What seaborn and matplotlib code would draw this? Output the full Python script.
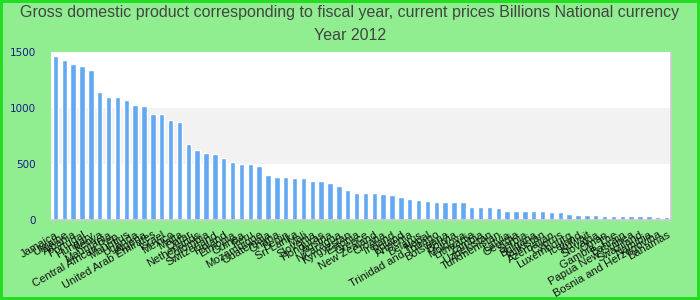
import matplotlib
matplotlib.use("Agg")
import matplotlib.pyplot as plt
import seaborn as sns
import pandas as pd

countries = [
    "Jamaica", "Ukraine", "Albania", "Portugal", "Hungary",
    "Kenya", "Mauritania", "Central African Rep.", "Mauritius", "Uganda",
    "Algeria", "United Arab Emirates", "Israel", "Mexico", "Malta",
    "Qatar", "Netherlands", "Colombia", "Switzerland", "Finland",
    "Ethiopia", "Guinea", "Peru", "Mozambique", "Guatemala",
    "Ghana", "Benin", "Sri Lanka", "Mali", "Slovenia",
    "Honduras", "Austria", "Nicaragua", "Kyrgyzstan", "Estonia",
    "Greece", "New Zealand", "Croatia", "Ireland", "Poland",
    "Armenia", "Belarus", "Nepal", "Trinidad and Tobago", "Botswana",
    "Bolivia", "Moldova", "Lithuania", "Zambia", "Uzbekistan",
    "Turkmenistan", "Latvia", "Georgia", "Serbia", "Bulgaria",
    "Tajikistan", "Azerbaijan", "Cyprus", "Luxembourg", "Iceland",
    "Kuwait", "Slovakia", "Oman", "Gambia, The", "Bahrain",
    "Papua New Guinea", "Swaziland", "Namibia", "Bosnia and Herzegovina", "Bahamas",
]

values = [
    1468, 1432, 1397, 1379, 1335,
    1140, 1095, 1095, 1068, 1024,
    1015, 944, 944, 890, 872,
    678, 624, 597, 589, 554,
    519, 501, 501, 483, 403,
    385, 385, 376, 376, 349,
    349, 332, 305, 269, 242,
    242, 242, 234, 225, 207,
    189, 180, 172, 163, 163,
    163, 163, 118, 118, 118,
    109, 83, 83, 83, 83,
    83, 74, 74, 56, 47,
    47, 47, 38, 38, 38,
    38, 38, 38, 29, 29,
]

title_lines = [
    "Gross domestic product corresponding to fiscal year, current prices Billions National currency",
    "Year 2012",
]
y_ticks = [0, 500, 1000, 1500]

df = pd.DataFrame({"country": countries, "value": values})

sns.set_theme(style="white")
plt.rcParams["font.family"] = ["Liberation Sans", "DejaVu Sans"]

fig = plt.figure(figsize=(7, 3), dpi=100)
fig.patch.set_facecolor("#90ee90")
fig.patch.set_edgecolor("#22dd22")
fig.patch.set_linewidth(3)

ax = fig.add_axes([51 / 700, 1 - 220 / 300, 620 / 700, 168 / 300])
ax.set_facecolor("white")
ax.axhspan(500, 1000, color="#f2f2f2", zorder=0, lw=0)

sns.barplot(data=df, x="country", y="value", color="#62a9f2", width=0.6,
            saturation=1, ax=ax, zorder=2)

ax.set_xlim(-0.5, len(countries) - 0.5)
ax.set_ylim(0, 1500)
ax.set_yticks(y_ticks)
ax.set_yticklabels([str(v) for v in y_ticks], color="#1a1a8c",
                   fontsize=7.5, family="DejaVu Sans")
ax.tick_params(axis="y", length=0, pad=11)
ax.tick_params(axis="x", length=0, pad=7)
ax.set_xlabel("")
ax.set_ylabel("")
for lbl in ax.get_xticklabels():
    lbl.set_rotation(30)
    lbl.set_ha("right")
    lbl.set_rotation_mode("anchor")
    lbl.set_fontsize(8.0)
    lbl.set_color("#111111")

for s in ["top", "left"]:
    ax.spines[s].set_visible(False)
for s in ["bottom", "right"]:
    ax.spines[s].set_color("#cccccc")
    ax.spines[s].set_linewidth(1.2)

fig.text(0.5, 1 - 13 / 300, title_lines[0], ha="center", va="center",
         fontsize=11.5, color="#444444")
fig.text(0.5, 1 - 36 / 300, title_lines[1], ha="center", va="center",
         fontsize=11.5, color="#444444")

fig.savefig("out.png", dpi=100, facecolor=fig.get_facecolor(),
            edgecolor=fig.get_edgecolor())
